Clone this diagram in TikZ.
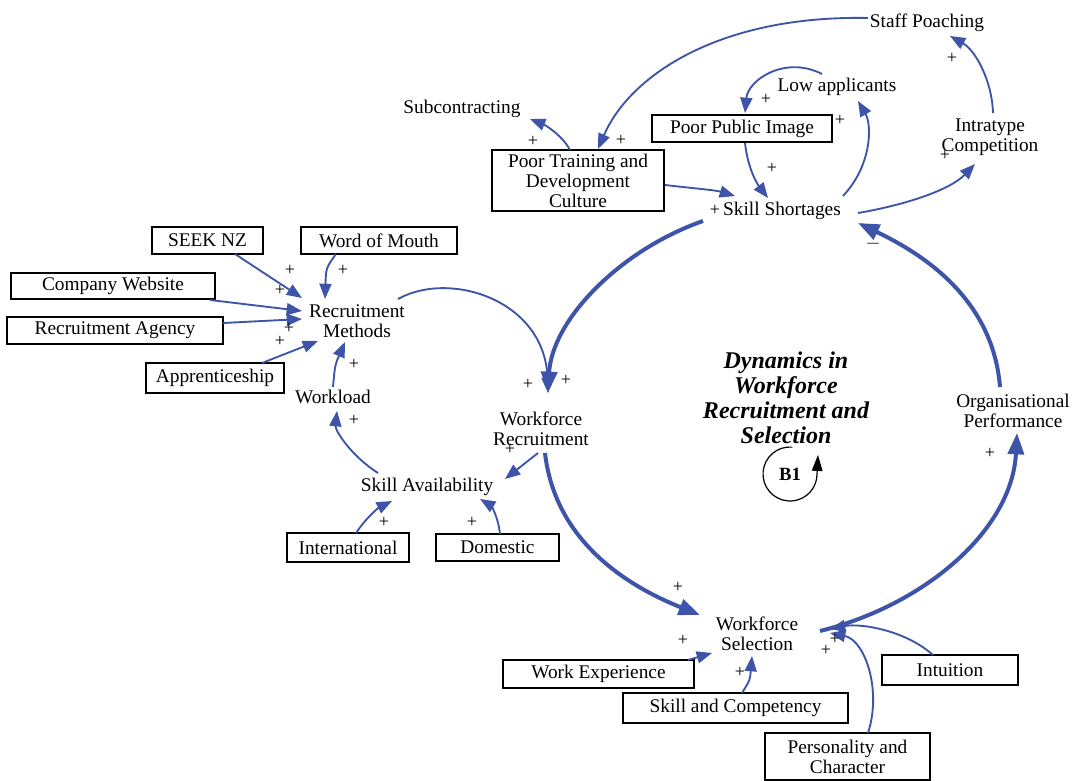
\documentclass[tikz,border=0pt]{standalone}
\usepackage{fontspec}
\setmainfont{Liberation Serif}
\usetikzlibrary{arrows.meta,calc}
\definecolor{linkblue}{RGB}{61,84,168}
\begin{document}
\begin{tikzpicture}[x=0.75pt,y=-0.75pt,
  every node/.style={font=\fontsize{14.5}{15}\selectfont, inner sep=1pt},
  var/.style={align=center},
  box/.style={draw, line width=0.8pt, align=center, inner sep=0pt},
  pol/.style={font=\fontsize{13.5}{13.5}\selectfont, inner sep=0pt},
  link/.style={draw=linkblue, line width=1.4pt, -{Triangle[length=11.5pt,width=9pt]}, color=linkblue},
  mainlink/.style={draw=linkblue, line width=3pt, -{Triangle[length=16pt,width=12pt]}, color=linkblue},
]
\useasboundingbox (0,0) rectangle (1076,781);

% variables
\node[var] (sp) at (927,23) {Staff Poaching};
\node[var] (la) at (837,87) {Low applicants};
\node[var] (sub) at (462,109) {Subcontracting};
\node[box, minimum width=135pt, minimum height=20.25pt] (ppi) at (742,128.5) {Poor Public Image};
\node[var] (ic) at (990,137) {Intratype\\Competition};
\node[box, minimum width=129pt, minimum height=45.75pt] (ptd) at (578,180.5) {Poor Training and\\Development\\Culture};
\node[var] (ss) at (782,211) {Skill Shortages};
\node[box, minimum width=83.25pt, minimum height=20.25pt] (seek) at (207.5,240.5) {SEEK NZ};
\node[box, minimum width=117pt, minimum height=20.25pt] (wom) at (379,240.5) {Word of Mouth};
\node[box, minimum width=153pt, minimum height=19.5pt] (cw) at (113,286) {Company Website};
\node[box, minimum width=162pt, minimum height=20.25pt] (ra) at (115,330.5) {Recruitment Agency};
\node[var] (rm) at (357,321) {Recruitment\\Methods};
\node[box, minimum width=103.5pt, minimum height=22.5pt] (app) at (215,378) {Apprenticeship};
\node[var] (wl) at (333,397) {Workload};
\node[var] (wr) at (541,429) {Workforce\\Recruitment};
\node[var] (sa) at (427,487) {Skill Availability};
\node[box, minimum width=91.5pt, minimum height=21.75pt] (intl) at (348,547.5) {International};
\node[box, minimum width=92.25pt, minimum height=20.25pt] (dom) at (497.5,547.5) {Domestic};
\node[var] (op) at (1013,411) {Organisational\\Performance};
\node[var] (ws) at (757,634) {Workforce\\Selection};
\node[box, minimum width=143.25pt, minimum height=21pt] (we) at (598.5,674) {Work Experience};
\node[box, minimum width=102pt, minimum height=22.5pt] (intu) at (950,670) {Intuition};
\node[box, minimum width=168.75pt, minimum height=22.5pt] (sc) at (735.5,708) {Skill and Competency};
\node[box, minimum width=123.75pt, minimum height=35.25pt] (pc) at (847.5,756.5) {Personality and\\Character};

% loop title and marker
\node[align=center, font=\fontsize{18}{18.75}\selectfont\bfseries\itshape] (title) at (786,398)
  {Dynamics in\\Workforce\\Recruitment and\\Selection};
\node[font=\fontsize{14}{14}\selectfont\bfseries] (b1) at (790,474) {B1};
\draw[line width=0.9pt, -{Triangle[length=12pt,width=8pt]}]
  ($(b1)+(-85:27)$) arc[start angle=-85, end angle=-358, radius=27] -- ++(1,-20);

% main balancing loop
\draw[mainlink] ($(ss)+(-79,10)$) .. controls (620,250) and (552,320) .. ($(wr)+(7,-36)$);
\draw[mainlink] ($(wr)+(4,24)$) .. controls (555,540) and (625,585) .. ($(ws)+(-57,-19)$);
\draw[mainlink] ($(ws)+(63,-3)$) .. controls (925,605) and (1012,530) .. ($(op)+(4,22)$);
\draw[mainlink] ($(op)+(-13,-24)$) .. controls (993,300) and (925,255) .. ($(ss)+(76,12)$);

% upper links
\draw[link] ($(sp)+(-59,-5)$) .. controls (720,15) and (630,75) .. ($(ptd)+(20,-31.5)$);
\draw[link] ($(ic)+(3,-24)$) .. controls (992,80) and (975,50) .. ($(sp)+(23,13)$);
\draw[link] ($(ss)+(76,2)$) .. controls (905,205) and (950,190) .. ($(ic)+(-15,27)$);
\draw[link] ($(ss)+(61,-15)$) .. controls (872,165) and (872,125) .. ($(la)+(21,14)$);
\draw[link] ($(la)+(-15,-13)$) .. controls (785,55) and (748,80) .. ($(ppi)+(3,-15.5)$);
\draw[link] ($(ppi)+(3,14.5)$) .. controls (748,170) and (758,185) .. ($(ss)+(-14,-13)$);
\draw[link] ($(ptd)+(87,4.5)$) .. controls (690,188) and (715,190) .. ($(ss)+(-47,-15)$);
\draw[link] ($(ptd)+(-8,-30.5)$) .. controls (562,135) and (545,125) .. ($(sub)+(68,10)$);

% recruitment side
\draw[link] ($(rm)+(41,-22)$) .. controls (450,270) and (545,300) .. ($(wr)+(7,-36)$);
\draw[link] ($(seek)+(27.5,13.5)$) -- ($(rm)+(-55,-23)$);
\draw[link] ($(wom)+(-43,13.5)$) .. controls (326,268) .. ($(rm)+(-32,-22)$);
\draw[link] ($(cw)+(97,14)$) -- ($(rm)+(-55,-10)$);
\draw[link] ($(ra)+(108,-7.5)$) -- ($(rm)+(-55,-2)$);
\draw[link] ($(app)+(47,-15)$) -- ($(rm)+(-39,20)$);
\draw[link] ($(wl)+(0,-10)$) .. controls (335,365) .. ($(rm)+(-12,21)$);
\draw[link] ($(sa)+(-49,-14)$) .. controls (350,455) and (335,430) .. ($(wl)+(4,14)$);
\draw[link] ($(wr)+(-3,24)$) -- ($(sa)+(78,-8)$);
\draw[link] ($(intl)+(8,-14.5)$) .. controls (366,518) and (378,508) .. ($(sa)+(-35,14)$);
\draw[link] ($(dom)+(2.5,-13.5)$) .. controls (498,515) and (490,505) .. ($(sa)+(53,12)$);

% selection side
\draw[link] ($(we)+(89.5,-14)$) -- ($(ws)+(-45,19)$);
\draw[link] ($(sc)+(6.5,-15)$) .. controls (750,680) .. ($(ws)+(-5,22)$);
\draw[link] ($(pc)+(20.5,-23.5)$) .. controls (882,690) and (865,640) .. ($(ws)+(73,-1)$);
\draw[link] ($(intu)+(-17,-15)$) .. controls (905,630) and (860,623) .. ($(ws)+(73,-5)$);

% link polarities
\node[pol] (p1) at (621,140) {+};
\node[pol] (p2) at (952,58) {+};
\node[pol] (p3) at (945,155) {+};
\node[pol] (p4) at (840,120) {+};
\node[pol] (p5) at (766,99) {+};
\node[pol] (p6) at (772,168) {+};
\node[pol] (p7) at (715,210) {+};
\node[pol] (p8) at (533,141) {+};
\node[pol] (p9) at (290,270) {+};
\node[pol] (p10) at (343,270) {+};
\node[pol] (p11) at (280,290) {+};
\node[pol] (p12) at (289,328) {+};
\node[pol] (p13) at (280,341) {+};
\node[pol] (p14) at (354,364) {+};
\node[pol] (p15) at (354,420) {+};
\node[pol] (p16) at (528,384) {+};
\node[pol] (p17) at (566,380) {+};
\node[pol] (p18) at (510,449) {+};
\node[pol] (p19) at (384,522) {+};
\node[pol] (p20) at (472,522) {+};
\node[pol] (p21) at (678,587) {+};
\node[pol] (p22) at (683,640) {+};
\node[pol] (p23) at (740,672) {+};
\node[pol] (p24) at (835,639) {+};
\node[pol] (p25) at (826,650) {+};
\node[pol] (p26) at (990,453) {+};
\node[pol, font=\fontsize{14}{14}\selectfont] (m1) at (873,244) {$-$};
\end{tikzpicture}
\end{document}
